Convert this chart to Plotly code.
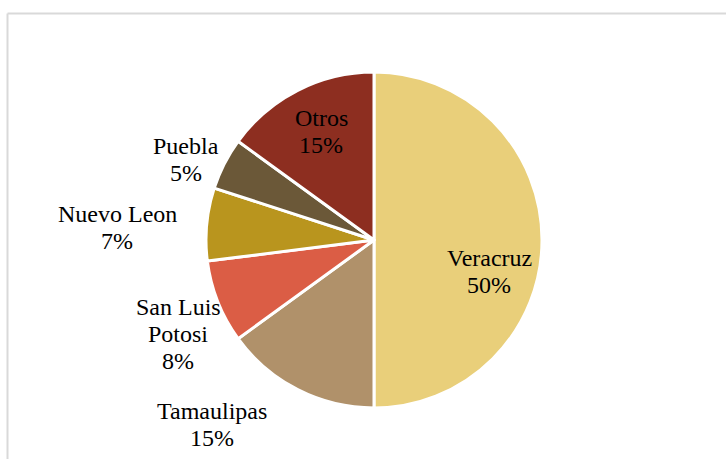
import plotly.graph_objects as go

# Production share by state
states = ["Veracruz", "Tamaulipas", "San Luis Potosi", "Nuevo Leon", "Puebla", "Otros"]
shares = [50, 15, 8, 7, 5, 15]

colors = ["#E9CF7A", "#B0916A", "#DB5D45", "#B9951E", "#6B5838", "#8D2E20"]

# How each state name wraps in its label
label_lines = [["Veracruz"], ["Tamaulipas"], ["San Luis", "Potosi"], ["Nuevo Leon"], ["Puebla"], ["Otros"]]

# Label block centres (pixels in the 726x459 canvas) and line pitch
label_px = [(489, 271), (212, 424), (178, 334), (117, 227), (186, 159), (321, 131)]
LINE_PITCH = 27
FONT = dict(family="Times New Roman, Liberation Serif, serif", size=24, color="black")

W, H = 726, 459
cx, cy, r = 374, 240, 168

fig = go.Figure(
    go.Pie(
        labels=states,
        values=shares,
        sort=False,
        direction="clockwise",
        rotation=0,
        marker=dict(colors=colors, line=dict(color="white", width=3)),
        textinfo="none",
        hoverinfo="label+percent",
        showlegend=False,
        domain=dict(x=[(cx - r) / W, (cx + r) / W], y=[1 - (cy + r) / H, 1 - (cy - r) / H]),
    )
)

total = sum(shares)
annotations = []
for lines, val, (px, py) in zip(label_lines, shares, label_px):
    rows = lines + [f"{round(100 * val / total)}%"]
    n = len(rows)
    for i, row in enumerate(rows):
        y_px = py + (i - (n - 1) / 2) * LINE_PITCH
        annotations.append(
            dict(
                x=px / W,
                y=1 - y_px / H,
                xref="paper",
                yref="paper",
                text=row,
                showarrow=False,
                xanchor="center",
                yanchor="middle",
                font=FONT,
            )
        )

fig.update_layout(
    width=W,
    height=H,
    margin=dict(l=0, r=0, t=0, b=0),
    paper_bgcolor="white",
    plot_bgcolor="white",
    font=dict(family="Times New Roman, Liberation Serif, serif"),
    annotations=annotations,
    shapes=[
        dict(type="line", xref="paper", yref="paper", x0=7.5 / W, x1=1.01, y0=1 - 13.5 / H, y1=1 - 13.5 / H,
             line=dict(color="#D9D9D9", width=2)),
        dict(type="line", xref="paper", yref="paper", x0=7.5 / W, x1=7.5 / W, y0=1 - 13.5 / H, y1=-0.01,
             line=dict(color="#D9D9D9", width=2)),
    ],
)

fig.write_html("out.html")
